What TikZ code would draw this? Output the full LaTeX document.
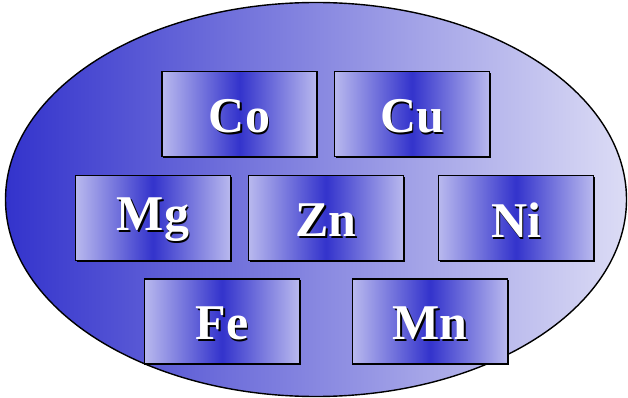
\documentclass[tikz,border=0pt]{standalone}
\usepackage{fontspec}
\setmainfont{Liberation Serif}
\usetikzlibrary{shapes.geometric}
\definecolor{dk}{RGB}{51,51,204}
\definecolor{lt}{RGB}{220,220,245}
\definecolor{bx}{RGB}{185,185,238}
\tikzset{
  elembox/.style={draw=black, line width=1.5pt, minimum width=155pt, minimum height=85pt, inner sep=0pt,
    left color=bx, right color=bx, middle color=dk},
  elemshadow/.style={fill=black, minimum width=155pt, minimum height=85pt, inner sep=0pt},
  eltext/.style={font=\fontsize{50}{50}\selectfont\bfseries, text=white, inner sep=0pt},
}
\newcommand{\shadowed}[1]{\makebox[0pt][l]{\hspace{1.8pt}\raisebox{-1.8pt}{\textcolor{black}{#1}}}#1}
\newcommand{\myelem}[4]{%
  \node[elemshadow] (#1s) at (#2+1.3,#3+1.3) {};
  \node[elembox] (#1) at (#2,#3) {};
  \node[eltext] (#1t) at ([yshift=-3pt]#1.center) {\shadowed{#4}};
}
\begin{document}
\begin{tikzpicture}[x=1pt,y=-1pt]
\useasboundingbox (0,0) rectangle (628,398);
\node[draw=black, line width=1.4pt, ellipse, minimum width=621pt, minimum height=394pt, inner sep=0pt,
  left color=dk, right color=lt] (oval) at (316,199.5) {};
\myelem{co}{239.5}{114}{Co}
\myelem{cu}{412}{114}{Cu}
\myelem{mg}{153}{218}{Mg}
\myelem{zn}{326}{218}{Zn}
\myelem{ni}{516}{218}{Ni}
\myelem{fe}{222}{321.5}{Fe}
\myelem{mn}{430}{321.5}{Mn}
\end{tikzpicture}
\end{document}
